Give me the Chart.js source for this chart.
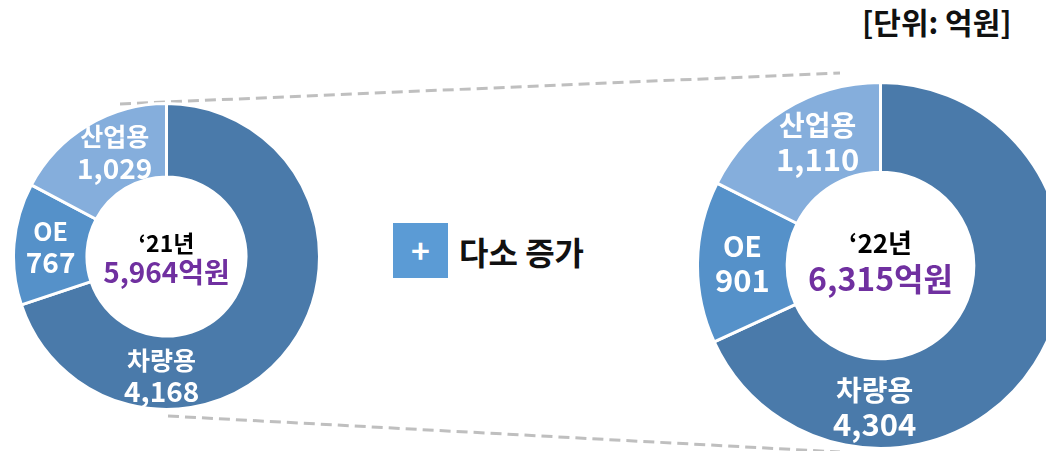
<!DOCTYPE html>
<html>
<head>
<meta charset="utf-8">
<script src="https://cdn.jsdelivr.net/npm/chart.js@4"></script>
<style>
  html, body { margin: 0; padding: 0; background: #fff; }
  body { width: 1046px; height: 451px; position: relative; overflow: hidden;
         font-family: "Noto Sans CJK KR", "Noto Sans", sans-serif; }
  canvas { position: absolute; }
  #lines { position: absolute; left: 0; top: 0; }
  .unit { position: absolute; left: 862px; top: -1px; font-size: 30px; font-weight: 700; color: #111; }
  .plus { position: absolute; left: 393px; top: 223px; width: 55px; height: 55px; background: #5B9BD5;
          color: #fff; font-size: 32px; font-weight: 700; line-height: 52px; text-align: center; }
  .note { position: absolute; left: 459px; top: 228px; font-size: 32px; font-weight: 700; color: #111; }
</style>
</head>
<body>
<svg id="lines" width="1046" height="451">
  <line x1="120" y1="104" x2="840" y2="73" stroke="#BFBFBF" stroke-width="3" stroke-dasharray="11,6"/>
  <line x1="168" y1="416" x2="840" y2="452" stroke="#BFBFBF" stroke-width="3" stroke-dasharray="11,6"/>
</svg>
<canvas id="c21" width="309" height="309" style="left:12px; top:102px;"></canvas>
<canvas id="c22" width="369" height="369" style="left:696px; top:81px;"></canvas>
<div class="unit">[단위: 억원]</div>
<div class="plus">+</div>
<div class="note">다소 증가</div>
<script>
// data
const categories = ["차량용", "OE", "산업용"];
const values21 = [4168, 767, 1029];
const values22 = [4304, 901, 1110];
const years = ["‘21년", "‘22년"];
const colors = ["#4A7AAA", "#5591C9", "#85AEDC"];

// labels inside the ring + total in the hole
const ringLabels = {
  id: "ringLabels",
  afterDatasetsDraw(chart, args, opts) {
    const ctx = chart.ctx;
    const meta = chart.getDatasetMeta(0);
    const vals = chart.data.datasets[0].data;
    ctx.save();
    ctx.textAlign = "center";
    ctx.textBaseline = "middle";
    meta.data.forEach((arc, i) => {
      const p = arc.getProps(["x", "y", "startAngle", "endAngle", "innerRadius", "outerRadius"], true);
      let a = (p.startAngle + p.endAngle) / 2;
      let r = (p.innerRadius + p.outerRadius) / 2;
      if (i === 0) { a = Math.PI * 0.513; r *= 1.03; }   // big slice: put label at the bottom
      if (i === 2) { a += 0.08; }
      const x = p.x + Math.cos(a) * r;
      const y = p.y + Math.sin(a) * r;
      ctx.fillStyle = "#fff";
      ctx.font = "bold " + opts.size + "px 'Noto Sans CJK KR'";
      ctx.fillText(chart.data.labels[i], x, y - opts.gap / 2);
      ctx.font = "bold " + opts.numSize + "px 'Noto Sans CJK KR'";
      ctx.fillText(vals[i].toLocaleString("en-US"), x, y + opts.gap / 2);
    });
    const c = meta.data[0];
    const total = vals.reduce((s, v) => s + v, 0);
    ctx.fillStyle = "#000";
    ctx.font = "bold " + opts.yearSize + "px 'Noto Sans CJK KR'";
    ctx.fillText(opts.year, c.x, c.y - opts.yearOff);
    ctx.fillStyle = "#7030A0";
    ctx.font = "bold " + opts.totalSize + "px 'Noto Sans CJK KR'";
    ctx.fillText(total.toLocaleString("en-US") + "억원", c.x, c.y + opts.totalOff);
    ctx.restore();
  }
};

function makeChart(id, values, cutout, lbl) {
  return new Chart(document.getElementById(id), {
    type: "doughnut",
    data: {
      labels: categories,
      datasets: [{ data: values, backgroundColor: colors, borderColor: "#fff", borderWidth: 3 }]
    },
    options: {
      responsive: false,
      animation: false,
      cutout: cutout,
      layout: { padding: 0 },
      plugins: { legend: { display: false }, tooltip: { enabled: false }, ringLabels: lbl }
    },
    plugins: [ringLabels]
  });
}

makeChart("c21", values21, "52%", { size: 25, numSize: 28, gap: 31, year: years[0], yearSize: 23, yearOff: 13, totalSize: 28, totalOff: 16 });
makeChart("c22", values22, "51%", { size: 28, numSize: 31, gap: 34, year: years[1], yearSize: 26, yearOff: 22, totalSize: 32, totalOff: 13 });
</script>
</body>
</html>
